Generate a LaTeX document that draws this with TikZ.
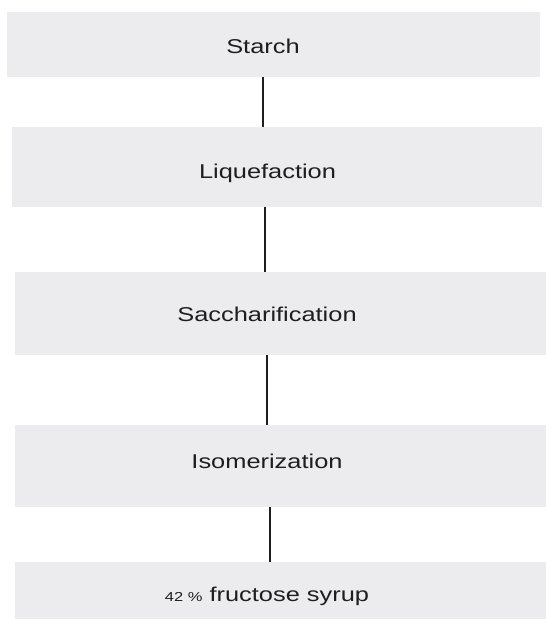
\documentclass[tikz,border=0pt]{standalone}
\usepackage{fontspec}
\setmainfont[FakeStretch=1.27]{Liberation Sans}
\definecolor{bandgray}{RGB}{236,236,238}
\definecolor{inkcol}{RGB}{30,30,30}
\begin{document}
\begin{tikzpicture}[x=1pt,y=-1pt,
  band/.style={fill=bandgray,draw=none,inner sep=0pt,outer sep=0pt},
  lbl/.style={inner sep=0pt,outer sep=0pt,anchor=base,text=inkcol,font=\fontsize{20}{24}\selectfont},
  link/.style={draw=inkcol,line width=2pt}]
\useasboundingbox (0,0) rectangle (546,621);
\fill[white] (0,0) rectangle (546,621);
% bands
\node[band,minimum width=533pt,minimum height=65pt] (b1) at (273.5,44.5) {};
\node[band,minimum width=530pt,minimum height=80pt] (b2) at (277,167) {};
\node[band,minimum width=531pt,minimum height=83pt] (b3) at (280.5,313.5) {};
\node[band,minimum width=531pt,minimum height=82pt] (b4) at (280.5,466) {};
\node[band,minimum width=531pt,minimum height=57pt] (b5) at (280.5,590.5) {};
% labels
\node[lbl] (t1) at (263,53) {Starch};
\node[lbl] (t2) at (267.5,178) {Liquefaction};
\node[lbl] (t3) at (267,321) {Saccharification};
\node[lbl] (t4) at (267,468.5) {Isomerization};
\node[lbl] (t5) at (267,601.5) {{\fontsize{13}{16}\selectfont 42 \%} fructose syrup};
% connectors
\draw[link] (t1.base |- b1.south) -- (t1.base |- b2.north);
\draw[link] ([xshift=-2.5pt]t2.base |- b2.south) -- ([xshift=-2.5pt]t2.base |- b3.north);
\draw[link] (t3.base |- b3.south) -- (t3.base |- b4.north);
\draw[link] ([xshift=3pt]t4.base |- b4.south) -- ([xshift=3pt]t4.base |- b5.north);
\end{tikzpicture}
\end{document}
